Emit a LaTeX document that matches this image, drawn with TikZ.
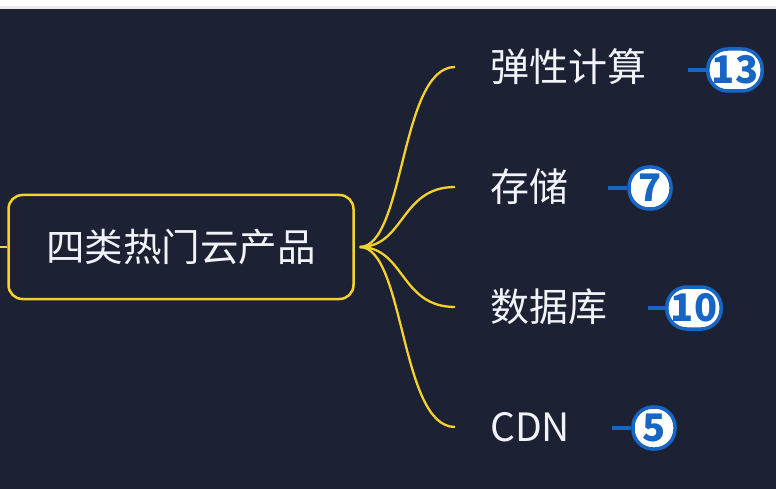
\documentclass[tikz,border=0pt]{standalone}
\usepackage{fontspec}
\newfontfamily\cjk{Noto Sans CJK SC}
\usetikzlibrary{positioning, calc}
\definecolor{bgdark}{HTML}{1C2133}
\definecolor{mapyellow}{HTML}{F3D12E}
\definecolor{badgeblue}{HTML}{1766C4}
\definecolor{leaftext}{HTML}{F1F3F8}
\tikzset{
  rootbox/.style={draw=mapyellow, line width=2.5pt, rounded corners=14pt, fill=bgdark,
    minimum width=345pt, minimum height=104pt, text=leaftext, font=\cjk\fontsize{38.5}{44}\selectfont},
  leaf/.style={anchor=west, text=leaftext, inner sep=0pt, font=\cjk\fontsize{39}{44}\selectfont},
  branch/.style={mapyellow, line width=2.3pt},
  badge/.style={draw=badgeblue, fill=white, line width=3.5pt, rounded corners=20pt,
    minimum height=42pt, minimum width=42pt, inner xsep=4pt, inner ysep=0pt, text=badgeblue,
    font=\cjk\bfseries\fontsize{38}{38}\selectfont},
  stub/.style={badgeblue, line width=3.5pt}
}
\begin{document}
\begin{tikzpicture}[x=1pt, y=-1pt]
  \useasboundingbox (0,0) rectangle (776,489);
  \fill[bgdark] (0,0) rectangle (776,489);
  \fill[white] (0,0) rectangle (776,6);
  \fill[black!8] (0,6) rectangle (776,9);

  % root
  \coordinate (lstub) at (0,247);
  \node[rootbox] (root) at (181,247) {四类热门云产品};
  \draw[branch] (lstub) -- (root.west);
  \coordinate (hub) at ($(root.east)+(5,0)$);

  % leaves
  \node[leaf] (l1) at (490,67) {弹性计算};
  \node[leaf] (l2) at (490,187) {存储};
  \node[leaf] (l3) at (490,307) {数据库};
  \node[leaf] (l4) at (490,427) {CDN};

  \foreach \y [count=\i] in {67,187,307,427} {
    \coordinate (e\i) at (455,\y);
    \draw[branch] (hub) .. controls ($(hub)+(45,0)$) and ($(e\i)+(-55,0)$) .. (e\i);
  }

  % badges
  \node[badge] (b1) at (735,70) {13};
  \node[badge] (b2) at (650,188) {7};
  \node[badge] (b3) at (694,308) {10};
  \node[badge] (b4) at (654,428) {5};
  \coordinate (s1) at (688,70);
  \coordinate (s2) at (608,188);
  \coordinate (s3) at (648,308);
  \coordinate (s4) at (612,428);
  \foreach \i in {1,...,4}
    \draw[stub] (s\i) -- (b\i.west);
\end{tikzpicture}
\end{document}
